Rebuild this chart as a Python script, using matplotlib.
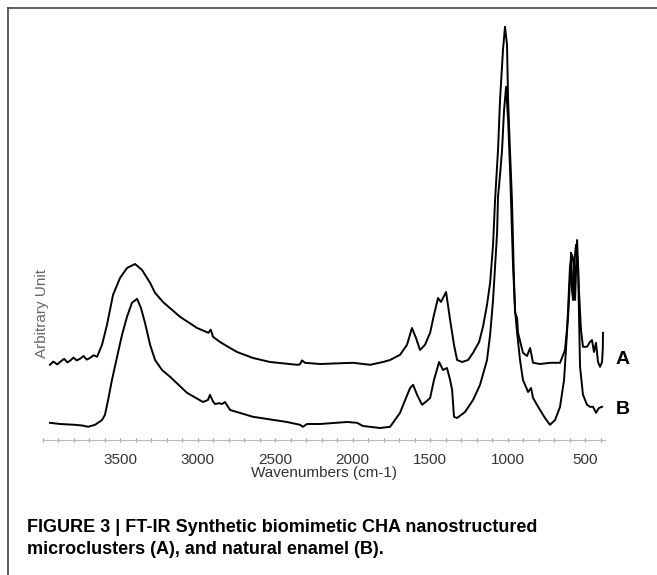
import matplotlib
matplotlib.use("Agg")
import matplotlib.pyplot as plt
from matplotlib.lines import Line2D
from matplotlib.ticker import MultipleLocator

plt.rcParams["font.family"] = ["Liberation Sans", "DejaVu Sans"]

# FT-IR spectra (wavenumber cm-1, arbitrary units)
wn_a = [3952, 3930, 3905, 3887, 3860, 3840, 3823, 3800, 3780, 3758, 3735, 3715, 3694, 3670, 3648,
        3616, 3584, 3545, 3500, 3455, 3403, 3358, 3306, 3274, 3223, 3113, 3003, 2930, 2915, 2900,
        2855, 2790, 2745, 2642, 2532, 2358, 2340, 2326, 2307, 2210, 1997, 1887, 1804, 1758, 1694,
        1649, 1617, 1591, 1565, 1533, 1500, 1475, 1449, 1430, 1397, 1371, 1346, 1326, 1294, 1255,
        1223, 1184, 1159, 1133, 1113, 1094, 1081, 1062, 1049, 1030, 1017, 1004, 997, 985, 972,
        959, 952, 939, 933, 901, 875, 855, 836, 791, 726, 662, 630, 610, 598, 591, 585, 578, 572,
        565, 552, 540, 527, 514, 488, 469, 456, 443, 430, 417, 404, 391, 386, 385]
abs_a = [18.8, 19.6, 18.9, 19.5, 20.3, 19.4, 19.8, 20.6, 19.9, 20.3, 21.0, 20.1, 20.5, 21.2, 20.8,
         23.8, 28.8, 36.3, 40.5, 43.0, 44.0, 42.5, 39.3, 36.8, 34.5, 30.8, 28.0, 26.8, 27.6, 25.8,
         24.5, 23.0, 22.0, 20.5, 19.5, 18.8, 18.9, 19.9, 19.3, 19.0, 19.3, 18.8, 19.5, 20.0, 21.3,
         23.8, 28.0, 25.5, 22.5, 23.8, 26.8, 31.3, 35.5, 34.5, 37.0, 30.0, 23.8, 20.0, 19.5, 20.0,
         21.8, 24.5, 28.3, 33.8, 39.3, 48.8, 60.0, 72.5, 85.0, 97.5, 103.3, 98.8, 85.0, 72.5, 60.0,
         40.0, 31.8, 30.5, 26.8, 21.8, 21.0, 23.0, 19.3, 19.0, 19.3, 19.3, 22.5, 30.8, 40.0, 46.8,
         37.5, 35.0, 45.5, 35.0, 50.0, 37.5, 27.5, 23.3, 23.3, 24.5, 25.0, 22.0, 24.3, 19.5, 18.3,
         19.5, 23.0, 26.8]

wn_b = [3952, 3887, 3790, 3740, 3706, 3661, 3616, 3597, 3577, 3552, 3519, 3487, 3455, 3423, 3390,
        3365, 3339, 3306, 3274, 3229, 3177, 3068, 2965, 2933, 2920, 2900, 2887, 2860, 2842, 2823,
        2790, 2642, 2423, 2339, 2320, 2294, 2210, 2036, 1971, 1933, 1823, 1758, 1694, 1661, 1629,
        1610, 1584, 1552, 1520, 1500, 1475, 1442, 1417, 1391, 1371, 1358, 1346, 1326, 1275, 1223,
        1178, 1133, 1113, 1094, 1068, 1062, 1049, 1036, 1023, 1010, 997, 985, 965, 952, 939, 920,
        901, 868, 849, 836, 791, 759, 727, 694, 662, 636, 617, 598, 585, 572, 559, 546, 533, 514,
        488, 469, 449, 430, 411, 391]
abs_b = [4.3, 4.0, 3.8, 3.6, 3.3, 3.8, 5.0, 6.3, 10.0, 15.0, 20.8, 26.3, 30.8, 34.3, 35.3,
         33.0, 29.3, 23.8, 20.0, 17.5, 15.8, 11.8, 9.5, 10.0, 11.3, 9.6, 9.0, 9.2, 9.0, 9.5,
         7.5, 5.8, 4.5, 3.8, 3.3, 4.0, 4.0, 4.5, 4.3, 3.5, 3.0, 3.3, 6.8, 10.0, 13.0,
         13.8, 11.3, 8.8, 9.8, 10.5, 15.0, 19.5, 17.5, 18.0, 15.0, 12.5, 5.8, 5.5, 7.0, 10.0,
         13.8, 20.0, 26.3, 35.0, 51.8, 60.8, 66.3, 72.5, 82.5, 88.3, 80.0, 68.3, 43.3, 32.5, 26.8, 20.0,
         15.0, 12.0, 13.0, 10.5, 7.5, 5.5, 3.8, 5.0, 8.3, 15.0, 26.8, 43.3, 46.3, 43.8, 48.8, 43.8, 18.3, 11.3,
         8.8, 8.3, 8.3, 6.8, 8.0, 8.3]

major_ticks = [3500, 3000, 2500, 2000, 1500, 1000, 500]

fig = plt.figure(figsize=(6.57, 5.75), dpi=100)
ax = fig.add_axes([42.5 / 657, 1 - 440 / 575, (605 - 42.5) / 657, 420 / 575])

ax.plot(wn_a, abs_a, color="black", lw=1.4)
ax.plot(wn_b, abs_b, color="black", lw=1.4)
ax.set_xlim(4000, 372)
ax.set_ylim(0, 105)

ax.text(260, 20, "A", fontsize=14, fontweight="bold", ha="center", va="center", clip_on=False)
ax.text(260, 7.5, "B", fontsize=14, fontweight="bold", ha="center", va="center", clip_on=False)

for s in ["left", "top", "right"]:
    ax.spines[s].set_visible(False)
ax.spines["bottom"].set_color("#bbbbbb")
ax.spines["bottom"].set_linestyle((0, (2, 1)))
ax.set_yticks([])
ax.set_xticks(major_ticks)
ax.xaxis.set_minor_locator(MultipleLocator(100))
ax.tick_params(axis="x", which="both", direction="inout", length=3, width=0.8,
               color="#999999", labelsize=11, labelcolor="#333333", pad=8)
ax.set_xlabel("Wavenumbers (cm-1)", fontsize=11, color="#333333", labelpad=-1)

fig.text(42 / 657, 1 - 313 / 575, "Arbitrary Unit", rotation=90, fontsize=11,
         color="#666666", ha="center", va="center")

# caption
fig.text(27 / 657, 1 - 527 / 575, "FIGURE 3 | FT-IR Synthetic biomimetic CHA nanostructured",
         fontsize=13, fontweight="bold", ha="left", va="center")
fig.text(27 / 657, 1 - 550 / 575, "microclusters (A), and natural enamel (B).",
         fontsize=13, fontweight="bold", ha="left", va="center")

# frame lines on left and top
fig.add_artist(Line2D([8 / 657, 8 / 657], [0, 1 - 8 / 575], color="#444444", lw=1.2))
fig.add_artist(Line2D([8 / 657, 1], [1 - 8 / 575, 1 - 8 / 575], color="#444444", lw=1.2))

fig.savefig("out.png", dpi=100)
